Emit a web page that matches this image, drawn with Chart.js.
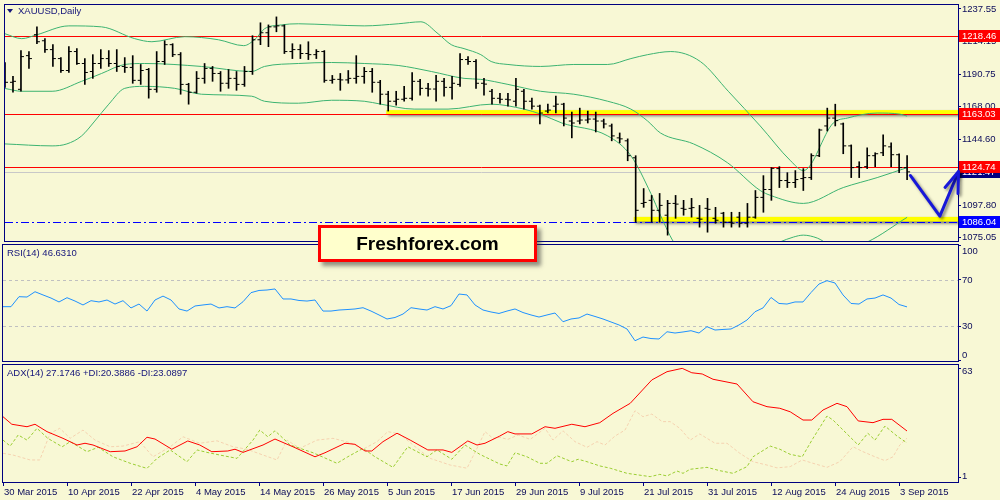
<!DOCTYPE html>
<html>
<head>
<meta charset="utf-8">
<script src="https://cdn.jsdelivr.net/npm/chart.js@4.4.1/dist/chart.umd.min.js"></script>
<style>
html,body{margin:0;padding:0;background:#F8F8D5;}
#wrap{position:relative;width:1000px;height:500px;overflow:hidden;background:#F8F8D5;}
canvas{position:absolute;left:0;}
.ttl{position:absolute;font:9.5px 'Liberation Sans',Arial,sans-serif;line-height:12px;color:#14147a;white-space:nowrap;z-index:3;}
.tri{position:absolute;left:7px;top:9px;width:0;height:0;border-left:3px solid transparent;border-right:3px solid transparent;border-top:4px solid #14147a;z-index:3;}
#ff{position:absolute;left:318px;top:225px;width:213px;height:31px;border:3px solid #ff0000;background:#FFFFCC;box-shadow:4px 4px 4px rgba(60,60,60,0.55);font:bold 19px 'Liberation Sans',Arial,sans-serif;color:#000;text-align:center;line-height:31px;z-index:5;}
</style>
</head>
<body>
<div id="wrap">
  <canvas id="cMain" width="1000" height="246" style="top:0px"></canvas>
  <canvas id="cRsi" width="1000" height="127" style="top:239px"></canvas>
  <canvas id="cAdx" width="1000" height="141" style="top:359px"></canvas>
  <div class="tri"></div>
  <div class="ttl" style="left:18px;top:5px">XAUUSD,Daily</div>
  <div class="ttl" style="left:7px;top:247px">RSI(14) 46.6310</div>
  <div class="ttl" style="left:7px;top:367px">ADX(14) 27.1746 +DI:20.3886 -DI:23.0897</div>
  <div id="ff">Freshforex.com</div>
</div>
<script>
// ---------------- DATA ----------------
const dateIdx = [0,8,16,24,32,40,48,56,64,72,80,88,96,104,112];
const dateLabels = ['30 Mar 2015','10 Apr 2015','22 Apr 2015','4 May 2015','14 May 2015','26 May 2015','5 Jun 2015','17 Jun 2015','29 Jun 2015','9 Jul 2015','21 Jul 2015','31 Jul 2015','12 Aug 2015','24 Aug 2015','3 Sep 2015'];

const opens = [1193.0,1185.3,1180.3,1204.3,1219.2,1214.9,1208.6,1202.2,1193.7,1207.2,
1198.7,1193.0,1198.7,1202.2,1198.7,1196.6,1195.9,1186.7,1194.4,1180.3,
1200.1,1212.1,1205.0,1183.8,1178.2,1188.1,1195.2,1191.6,1184.6,1188.1,
1183.8,1193.0,1215.6,1220.6,1224.8,1225.5,1207.2,1208.6,1205.8,1205.0,
1207.2,1186.7,1187.4,1187.0,1188.1,1189.5,1193.0,1185.3,1176.8,1171.8,
1173.2,1173.9,1186.0,1181.0,1180.5,1186.0,1181.7,1183.8,1201.5,1200.1,
1184.6,1178.9,1173.9,1173.2,1171.8,1178.9,1171.8,1168.3,1164.8,1168.3,
1169.7,1157.7,1157.7,1158.4,1159.1,1157.7,1154.2,1145.7,1143.6,1131.5,
1099.0,1101.2,1094.1,1090.6,1099.0,1095.5,1095.5,1088.4,1095.5,1088.4,
1092.0,1085.6,1089.2,1084.9,1089.2,1103.3,1108.9,1123.8,1115.3,1113.9,
1116.7,1117.4,1133.0,1154.2,1159.8,1155.6,1140.0,1125.2,1125.2,1133.0,
1135.1,1139.3,1133.7,1124.5];
const highs = [1199.4,1189.5,1207.9,1207.2,1224.8,1216.4,1212.1,1202.9,1210.7,1209.3,
1202.2,1205.0,1208.6,1207.9,1208.6,1202.9,1204.3,1198.0,1195.2,1207.2,
1214.9,1212.8,1206.5,1184.6,1193.0,1198.7,1196.6,1193.0,1194.4,1193.0,
1196.6,1218.5,1227.7,1226.2,1231.9,1226.2,1212.8,1212.1,1214.2,1208.6,
1207.9,1190.2,1191.6,1193.7,1204.3,1195.9,1195.2,1186.7,1178.9,1178.9,
1182.4,1192.3,1187.4,1184.6,1190.2,1188.1,1189.5,1205.8,1203.6,1201.5,
1188.1,1180.3,1177.5,1177.5,1188.1,1180.3,1174.0,1169.0,1169.7,1175.4,
1170.4,1164.1,1166.9,1164.8,1164.1,1159.1,1155.6,1149.2,1145.0,1133.0,
1109.6,1104.7,1106.1,1101.2,1104.7,1101.2,1102.6,1097.6,1102.6,1096.2,
1092.7,1092.7,1092.7,1099.0,1108.2,1118.8,1124.5,1125.2,1120.9,1122.4,
1123.8,1134.4,1152.0,1166.9,1169.7,1156.3,1140.7,1128.7,1138.6,1135.1,
1147.8,1142.1,1134.4,1133.0];
const lows = [1181.7,1178.2,1178.9,1195.2,1212.8,1206.5,1196.6,1192.3,1192.3,1198.0,
1183.8,1188.1,1195.2,1196.6,1193.0,1192.3,1184.6,1183.8,1174.0,1178.2,
1198.0,1203.6,1176.8,1169.7,1177.5,1184.6,1186.0,1178.9,1181.0,1179.6,
1182.4,1190.9,1212.1,1210.7,1221.3,1205.8,1202.2,1202.2,1201.5,1202.2,
1185.3,1184.6,1179.6,1184.6,1184.6,1184.6,1178.2,1169.7,1164.8,1169.0,
1171.8,1172.5,1176.1,1175.4,1171.8,1175.4,1173.2,1182.4,1198.0,1181.0,
1176.1,1169.7,1170.4,1168.3,1168.3,1166.2,1166.2,1155.6,1163.4,1163.4,
1154.2,1145.7,1155.6,1156.3,1149.9,1152.7,1143.6,1142.1,1129.4,1085.6,
1096.2,1085.6,1085.6,1076.4,1088.4,1090.6,1089.2,1082.1,1078.5,1084.9,
1082.1,1082.1,1082.1,1082.1,1088.4,1092.7,1101.2,1110.3,1110.3,1110.3,
1108.2,1116.0,1132.3,1150.6,1154.2,1134.4,1117.4,1117.4,1123.8,1125.2,
1133.0,1125.2,1120.9,1116.0];
const closes = [1185.3,1186.0,1203.6,1202.2,1214.2,1208.6,1202.2,1193.7,1207.2,1198.7,
1192.3,1198.7,1202.2,1198.7,1196.6,1195.9,1186.7,1193.7,1180.3,1200.1,
1212.1,1205.0,1183.8,1178.2,1188.1,1195.2,1191.6,1184.6,1188.1,1183.8,
1193.0,1215.6,1220.6,1224.8,1225.5,1207.2,1208.6,1205.8,1205.0,1207.2,
1186.7,1187.4,1187.0,1188.1,1189.5,1193.0,1185.3,1176.8,1171.8,1173.2,
1173.9,1186.0,1181.0,1180.5,1186.0,1181.7,1184.6,1201.5,1200.1,1184.6,
1184.0,1173.9,1173.2,1172.8,1180.3,1171.8,1168.3,1163.4,1165.5,1169.7,
1159.8,1156.3,1158.4,1159.1,1157.7,1155.6,1147.1,1145.0,1133.0,1094.1,
1099.7,1094.1,1097.6,1099.0,1098.5,1094.8,1096.0,1087.8,1094.8,1087.0,
1085.6,1084.9,1084.9,1089.2,1103.3,1108.9,1124.0,1115.3,1113.9,1116.0,
1117.4,1133.0,1151.3,1159.8,1158.0,1140.0,1124.5,1124.5,1133.0,1134.4,
1140.0,1133.7,1124.5,1121.47];

// Bollinger bands: [bar position, price]
const bbUpper = [[0,1219.9],[2.1,1216.4],[4,1219.2],[8,1225.5],[12.1,1224.8],[16.25,1216.4],[18.4,1214.2],[22.5,1217.8],[26.75,1215.6],[29.9,1211.4],[31.4,1216.4],[32.5,1223.4],[34.6,1226.2],[36.75,1227.0],[40.9,1226.2],[45,1225.5],[49.25,1227.0],[52.1,1228.4],[54.25,1219.9],[55.9,1212.1],[57.5,1209.3],[59.6,1205.0],[60.9,1200.1],[63,1198.0],[67.1,1196.6],[71.25,1198.0],[75.5,1198.0],[78.4,1202.2],[80.5,1205.0],[83.4,1207.2],[87.1,1200.1],[90.6,1178.9],[94.6,1154.2],[98.4,1129.4],[100,1122.4],[103.75,1156.3],[105.5,1159.8],[109.25,1163.4],[112.1,1162.6],[113,1161.2]];
const bbMiddle = [[0,1180.9],[2.1,1178.9],[5.9,1178.9],[9.6,1186.0],[12.1,1191.6],[15,1198.0],[17.5,1198.7],[24.6,1196.6],[30.9,1193.0],[32.5,1196.6],[36.75,1198.7],[40.9,1199.4],[45,1198.7],[49.25,1197.3],[53.4,1193.0],[57.5,1188.1],[59.6,1187.4],[63,1183.8],[67.1,1178.9],[71.25,1176.8],[75.5,1171.8],[78.4,1166.2],[80.5,1157.7],[82.1,1149.2],[86.25,1141.4],[90.5,1128.0],[94.6,1108.2],[95.9,1104.7],[100,1099.0],[105,1110.3],[109.25,1117.4],[113,1124.5]];
const bbLower = [[0,1141.4],[5.9,1140.0],[7.75,1141.4],[9.6,1147.1],[11.25,1157.7],[13,1169.7],[15,1181.0],[17.5,1182.4],[21.25,1181.0],[24.6,1176.8],[30.9,1175.4],[32.5,1171.8],[36.75,1170.4],[40.9,1172.5],[45,1171.8],[47.1,1169.7],[51.25,1166.2],[55.5,1166.2],[60.9,1169.7],[65,1166.2],[67.1,1162.6],[69.75,1156.3],[75.5,1147.1],[78.4,1133.0],[80.9,1106.1],[82.1,1090.6],[84,1069.4],[87.1,1057.3],[92.1,1060.2],[98.75,1075.0],[100,1076.4],[101.75,1074.3],[104.6,1065.8],[108,1071.5],[113,1089.1]];

const rsiValues = [46.8,46.8,55.5,55.2,59.8,57.0,54.3,50.9,54.6,51.7,
48.3,52.0,50.9,52.6,49.1,52.0,45.7,49.1,43.0,52.6,
56.0,52.6,44.8,43.0,47.4,48.3,49.1,45.7,46.8,45.7,
51.1,59.0,60.9,61.3,62.2,53.5,53.5,52.2,51.7,52.6,
43.0,43.0,43.9,44.3,44.8,45.9,43.0,39.6,36.1,37.4,
40.4,45.9,44.8,43.9,46.8,44.8,47.7,57.8,57.0,48.3,
43.9,42.2,40.9,43.0,44.8,41.7,39.6,37.8,39.6,41.3,
33.7,36.1,37.0,40.4,38.3,36.1,33.5,30.9,27.4,17.2,
20.4,19.1,18.7,25.0,23.9,24.8,25.9,23.9,29.4,26.5,
27.0,27.4,30.9,35.2,42.4,45.7,54.8,49.6,49.1,50.9,
50.9,59.1,66.5,69.4,67.4,57.0,49.6,49.1,53.5,54.3,
57.0,54.3,48.7,46.63];

// ADX(14) lines: [bar position, value]
const adxMain = [[0,35.3],[1.1,31.0],[3,29.6],[4,31.0],[5.5,26.8],[7.5,23.0],[9.25,19.2],[10.25,20.2],[11.25,19.2],[13.4,15.4],[15.25,15.8],[16.75,18.2],[18,23.6],[19,22.6],[21.1,16.8],[23.1,21.5],[24.6,19.2],[26.1,15.4],[28.1,15.8],[29,16.8],[30,15.0],[32.5,19.2],[34,22.6],[36.25,18.2],[39,12.5],[40.25,14.8],[42.75,20.2],[44,19.6],[45.25,15.8],[46.1,15.8],[47.5,21.1],[49.25,25.9],[50.9,22.0],[53.1,16.4],[55,16.4],[56.1,15.0],[58.1,21.5],[59.25,19.2],[60.25,20.2],[62.1,24.3],[63.1,26.8],[64,25.5],[66.1,25.5],[67.75,29.6],[69,28.7],[71.1,31.0],[72.75,29.6],[74.6,31.9],[76.25,37.2],[78.4,42.9],[81.1,56.2],[83,60.9],[84.9,62.8],[86.1,60.3],[87.4,59.6],[88.75,56.6],[91.75,53.9],[93.75,43.8],[95.5,41.0],[97.1,40.1],[98.4,38.1],[100,33.4],[101.1,33.4],[102.5,39.1],[104.25,42.9],[105.5,41.0],[106.9,32.9],[108.75,31.9],[110,33.8],[111.1,33.8],[113,27.17]];
const plusDI = [[0,22.0],[0.9,18.6],[1.9,24.9],[3,22.0],[4.25,28.7],[5.6,23.0],[7.4,18.2],[8.4,21.1],[10.5,15.4],[11.9,17.9],[13.75,12.5],[15.9,8.8],[18,5.9],[19.25,11.6],[20.9,16.4],[23,9.7],[24.25,16.4],[25.5,15.0],[27.1,13.5],[29.25,11.6],[31.25,22.0],[32.1,27.7],[33.1,23.9],[34,27.3],[35.9,19.2],[38.75,14.8],[41.75,8.8],[43.1,12.5],[45,17.3],[46.5,12.5],[48.75,6.5],[50.6,18.2],[53,12.5],[54.25,16.4],[56.1,11.1],[57.75,19.2],[59.6,13.9],[62.1,8.4],[63,7.3],[64,14.8],[65.5,12.5],[67.1,8.8],[68,8.8],[69.25,13.1],[71.1,9.7],[71.9,11.1],[73,9.7],[74.6,7.3],[75.9,6.0],[78,3.1],[80.9,1.2],[82.1,2.5],[83,1.6],[84.25,4.4],[85,3.1],[85.9,5.4],[88,6.5],[89.6,4.6],[91.25,3.1],[93,6.9],[93.75,12.5],[95.9,18.6],[97.1,16.8],[98.4,13.9],[99.9,12.5],[101.25,23.0],[103,35.7],[103.75,33.4],[106.9,19.2],[108.1,25.9],[109,22.0],[110.25,30.0],[111.75,24.3],[113,20.39]];
const minusDI = [[0,14.5],[1.25,13.5],[3.4,10.7],[4.6,10.7],[5.9,25.9],[7.1,28.7],[8.4,23.0],[10,27.7],[11.5,22.0],[13.4,18.2],[15,18.6],[17.1,21.1],[18.75,12.5],[20.9,18.2],[22.5,23.9],[24.6,20.2],[26.75,21.6],[28.75,18.2],[30.5,16.8],[32.5,13.5],[34.25,10.7],[35.5,22.0],[37.1,17.3],[39.25,22.0],[41.25,23.0],[43.4,20.5],[45,16.8],[46.75,21.1],[48.1,26.8],[49.6,25.5],[51.25,19.2],[53.4,11.6],[55.9,7.8],[58,6.0],[59.25,17.3],[60.25,26.8],[61.25,23.0],[62.1,23.6],[63.1,22.4],[64.4,24.9],[65.9,22.4],[67.75,28.7],[68.75,22.0],[70,27.3],[71.5,21.1],[73,17.9],[74.25,21.1],[75.25,19.2],[76.5,24.3],[77.75,27.7],[79,38.7],[80,35.3],[81.1,36.8],[82.4,32.5],[83.4,32.5],[84.6,28.7],[85.9,22.0],[87.1,25.5],[89,20.2],[90.5,20.2],[92.1,14.5],[93.75,9.7],[95.5,7.8],[96.75,6.2],[98.4,6.9],[99.9,10.7],[101.25,8.8],[103,6.5],[104.6,9.7],[106.25,18.2],[107.5,15.4],[109,12.5],[110.25,10.3],[111.25,12.5],[112.1,19.2],[113,23.09]];

const priceTicks = [1237.55,1214.15,1190.75,1168.00,1144.60,1097.80,1075.05];
const rsiTicks = [0,30,70,100];
const rsiLevels = [30,70];
const adxTicks = [1,63];

const resistanceLevels = [1218.46,1163.03,1124.74];
const bidPrice = 1121.47;
const supportLevel = 1086.04;
const zoneStart = [47.75,78.75];
const zoneHigh = [1165.5,1089.4];
const zoneLow = [1162.7,1086.1];
const arrowPath = [[113.4,1118.9],[117.1,1089.9],[119.44,1121.7]];
const arrowHead = [[117.75,1110.4],[119.44,1121.7],[119.375,1106.1]];

// ---------------- STYLE ----------------
const NAVY = '#000080';
const LABEL = '#0a0a5a';
const FONT = "'Liberation Sans', Arial, sans-serif";
const X_MAX = 119.375;
const barIdx = closes.map((_, i) => i);
const pairs = a => a.map(p => ({x: p[0], y: p[1]}));

function yAxis(min, max, tickVals, fmt, showLabels) {
  return {
    type: 'linear', position: 'right', min, max, bounds: 'data',
    afterBuildTicks: s => { s.ticks = tickVals.map(v => ({value: v})); },
    afterFit: s => { s.width = 42; s.paddingTop = 0; s.paddingBottom = 0; },
    grid: {drawOnChartArea: false, drawTicks: true, tickLength: 3, color: NAVY},
    border: {display: false},
    ticks: {display: showLabels, autoSkip: false, padding: 1, color: LABEL, font: {family: FONT, size: 9.5}, callback: v => fmt(v)}
  };
}
function xHidden() {
  return {type: 'linear', min: 0, max: X_MAX, offset: false, bounds: 'data', display: false, grid: {offset: false}};
}
function frame(c) {
  const {ctx, chartArea: a} = c;
  ctx.save();
  ctx.strokeStyle = NAVY; ctx.lineWidth = 1;
  ctx.strokeRect(a.left - 0.5, a.top - 0.5, a.right - a.left + 1, a.bottom - a.top + 1);
  ctx.restore();
}
// indicator-window labels are kept inside the window, as the terminal does
function sideLabels(c, vals) {
  const {ctx, chartArea: a, scales: {y}} = c;
  ctx.save();
  ctx.fillStyle = LABEL; ctx.font = '9.5px ' + FONT; ctx.textBaseline = 'middle'; ctx.textAlign = 'left';
  vals.forEach(v => {
    const yy = Math.min(Math.max(y.getPixelForValue(v), a.top + 6), a.bottom - 6);
    ctx.fillText(String(v), a.right + 4, yy);
  });
  ctx.restore();
}
function hline(c, price, color, dash, scale) {
  const {ctx, chartArea: a} = c;
  const yy = Math.round(scale.getPixelForValue(price)) + 0.5;
  ctx.save();
  ctx.strokeStyle = color; ctx.lineWidth = 1; ctx.setLineDash(dash);
  ctx.beginPath(); ctx.moveTo(a.left, yy); ctx.lineTo(a.right, yy); ctx.stroke();
  ctx.restore();
}
const base = (pad) => ({
  responsive: false, animation: false, events: [],
  layout: {padding: pad},
  plugins: {legend: {display: false}, tooltip: {enabled: false}}
});

// ---------------- MAIN PRICE CHART ----------------
const mainDecor = {
  id: 'mainDecor',
  beforeDatasetsDraw(c) {
    const {ctx, chartArea: a, scales: {x, y}} = c;
    for (let k = 0; k < zoneStart.length; k++) {
      const x0 = x.getPixelForValue(zoneStart[k]);
      const y0 = y.getPixelForValue(zoneHigh[k]), y1 = y.getPixelForValue(zoneLow[k]);
      ctx.save();
      ctx.shadowColor = 'rgba(50,50,50,0.65)'; ctx.shadowOffsetX = 2; ctx.shadowOffsetY = 2; ctx.shadowBlur = 3;
      ctx.fillStyle = '#FFFF00';
      ctx.fillRect(x0, y0, a.right - x0, y1 - y0);
      ctx.restore();
    }
    hline(c, bidPrice, '#C8C8C8', [], y);
    resistanceLevels.forEach(p => hline(c, p, '#FF0000', [], y));
    hline(c, supportLevel, '#0000FF', [8, 3, 2, 3], y);
  },
  afterDatasetsDraw(c) { frame(c); },
  afterDraw(c) {
    const {ctx, chartArea: a, scales: {x, y}} = c;
    const tag = (p, bg) => {
      const yy = Math.round(y.getPixelForValue(p));
      ctx.fillStyle = bg; ctx.fillRect(a.right + 1, yy - 6, 42, 12);
      ctx.fillStyle = '#FFFFFF'; ctx.font = '9.5px ' + FONT; ctx.textBaseline = 'middle'; ctx.textAlign = 'left';
      ctx.fillText(p.toFixed(2), a.right + 4, yy + 0.5);
    };
    ctx.save();
    tag(bidPrice, '#000080');
    resistanceLevels.forEach(p => tag(p, '#FF0000'));
    tag(supportLevel, '#0000FF');
    // hand-drawn arrow
    ctx.strokeStyle = '#1818D8'; ctx.lineWidth = 3; ctx.lineJoin = 'round'; ctx.lineCap = 'round';
    ctx.shadowColor = 'rgba(0,0,0,0.45)'; ctx.shadowBlur = 3; ctx.shadowOffsetX = 2; ctx.shadowOffsetY = 2;
    const poly = pts => { ctx.beginPath(); pts.forEach((p, k) => { const X = x.getPixelForValue(p[0]), Y = y.getPixelForValue(p[1]); k ? ctx.lineTo(X, Y) : ctx.moveTo(X, Y); }); ctx.stroke(); };
    poly(arrowPath);
    poly(arrowHead);
    ctx.restore();
  }
};

new Chart(document.getElementById('cMain'), {
  type: 'scatter',
  data: {
    datasets: [
      {type: 'bar', data: barIdx.map(i => ({x: i, y: [lows[i], highs[i]]})), backgroundColor: '#000000', borderWidth: 0, barThickness: 1, maxBarThickness: 1},
      {type: 'scatter', data: barIdx.map(i => ({x: i, y: opens[i]})), showLine: false, pointStyle: 'dash', pointRotation: 180, pointRadius: 3, pointBorderColor: '#000000', pointBorderWidth: 1, pointBackgroundColor: '#000000'},
      {type: 'scatter', data: barIdx.map(i => ({x: i, y: closes[i]})), showLine: false, pointStyle: 'dash', pointRotation: 0, pointRadius: 3, pointBorderColor: '#000000', pointBorderWidth: 1, pointBackgroundColor: '#000000'},
      {type: 'line', data: pairs(bbUpper), borderColor: '#3CB371', borderWidth: 1, pointRadius: 0, cubicInterpolationMode: 'monotone'},
      {type: 'line', data: pairs(bbMiddle), borderColor: '#3CB371', borderWidth: 1, pointRadius: 0, cubicInterpolationMode: 'monotone'},
      {type: 'line', data: pairs(bbLower), borderColor: '#3CB371', borderWidth: 1, pointRadius: 0, cubicInterpolationMode: 'monotone'}
    ]
  },
  options: Object.assign(base({left: 3, top: 3, right: 0, bottom: 5}), {
    scales: {
      x: xHidden(),
      y: yAxis(1072.224, 1240.376, priceTicks, v => v.toFixed(2), true)
    }
  }),
  plugins: [mainDecor]
});

// ---------------- RSI ----------------
const rsiDecor = {
  id: 'rsiDecor',
  beforeDatasetsDraw(c) { rsiLevels.forEach(v => hline(c, v, '#C0C0C0', [3, 3], c.scales.y)); },
  afterDatasetsDraw(c) { frame(c); },
  afterDraw(c) { sideLabels(c, rsiTicks); }
};
new Chart(document.getElementById('cRsi'), {
  type: 'line',
  data: {datasets: [{data: rsiValues.map((v, i) => ({x: i, y: v})), borderColor: '#1E90FF', borderWidth: 1, pointRadius: 0, tension: 0}]},
  options: Object.assign(base({left: 3, top: 6, right: 0, bottom: 5}), {
    scales: {x: xHidden(), y: yAxis(-0.43, 100.43, rsiTicks, v => String(v), false)}
  }),
  plugins: [rsiDecor]
});

// ---------------- ADX ----------------
const adxDecor = {id: 'adxDecor', afterDatasetsDraw(c) { frame(c); }, afterDraw(c) { sideLabels(c, adxTicks); }};
new Chart(document.getElementById('cAdx'), {
  type: 'line',
  data: {datasets: [
    {data: pairs(adxMain), borderColor: '#FF0000', borderWidth: 1, pointRadius: 0, tension: 0},
    {data: pairs(plusDI), borderColor: '#9ACD32', borderWidth: 1, borderDash: [3, 2], pointRadius: 0, tension: 0},
    {data: pairs(minusDI), borderColor: '#F5D2B0', borderWidth: 1, borderDash: [3, 2], pointRadius: 0, tension: 0}
  ]},
  options: Object.assign(base({left: 3, top: 6, right: 0, bottom: 0}), {
    scales: {
      x: {
        type: 'linear', min: 0, max: X_MAX, offset: false, bounds: 'data', position: 'bottom',
        afterBuildTicks: s => { s.ticks = dateIdx.map(v => ({value: v})); },
        afterFit: s => { s.height = 18; s.paddingLeft = 0; s.paddingRight = 0; },
        grid: {offset: false, drawOnChartArea: false, drawTicks: true, tickLength: 4, color: NAVY},
        border: {display: false},
        ticks: {autoSkip: false, maxRotation: 0, minRotation: 0, align: 'start', labelOffset: 1, padding: 1, color: LABEL, font: {family: FONT, size: 9.5},
          callback: v => dateLabels[dateIdx.indexOf(v)]}
      },
      y: yAxis(-1.84, 64.71, adxTicks, v => String(v), false)
    }
  }),
  plugins: [adxDecor]
});
</script>
</body>
</html>
